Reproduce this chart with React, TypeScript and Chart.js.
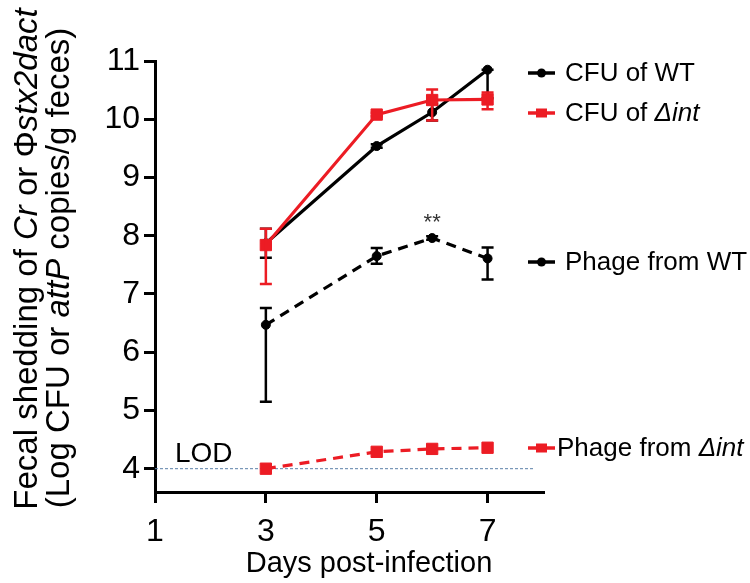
import React, { useEffect, useRef } from "react";
import { Chart, registerables } from "chart.js";

Chart.register(...registerables);

// ---------- data ----------
const days = [3, 5, 6, 7];

const cfuWT = [7.87, 9.54, 10.12, 10.85];
const cfuWTLow = [7.62, 9.51, 9.98, 10.36];
const cfuWTHigh = [8.12, 9.57, 10.26, 10.85];

const cfuInt = [7.84, 10.08, 10.33, 10.34];
const cfuIntLow = [7.17, 10.05, 9.98, 10.17];
const cfuIntHigh = [8.12, 10.11, 10.51, 10.46];

const phageWT = [6.47, 7.65, 7.96, 7.61];
const phageWTLow = [5.15, 7.52, 7.93, 7.25];
const phageWTHigh = [6.76, 7.79, 7.99, 7.8];

const phageInt = [4.0, 4.29, 4.34, 4.36];

const xTicks = [1, 3, 5, 7];
const yTicks = [4, 5, 6, 7, 8, 9, 10, 11];
const xMin = 1;
const xMax = 8;
const yMin = 3.6;
const yMax = 11;

const lodValue = 4;
const lodLabel = "LOD";
const starDay = 6;
const starValue = 8.22;
const starLabel = "**";

const xTitle = "Days post-infection";
// [text, italic]
const yTitleLine1: [string, boolean][] = [
  ["Fecal shedding of ", false],
  ["Cr", true],
  [" or \u03A6", false],
  ["stx2dact", true],
];
const yTitleLine2: [string, boolean][] = [
  ["(Log CFU or ", false],
  ["attP", true],
  [" copies/g feces)", false],
];

const legendLabels: [string, boolean][][] = [
  [["CFU of WT", false]],
  [["CFU of ", false], ["\u0394int", true]],
  [["Phage from WT", false]],
  [["Phage from ", false], ["\u0394int", true]],
];

const BLACK = "#000000";
const RED = "#ec1c24";
const FONT = '"Liberation Sans", Arial, Helvetica, sans-serif';

const errors = [
  { low: cfuWTLow, high: cfuWTHigh, color: BLACK },
  { low: cfuIntLow, high: cfuIntHigh, color: RED },
  { low: phageWTLow, high: phageWTHigh, color: BLACK },
  null,
];

function toPts(vals: number[]) {
  return vals.map((v, i) => ({ x: days[i], y: v }));
}

function drawSegments(
  ctx: CanvasRenderingContext2D,
  segs: [string, boolean][],
  x: number,
  y: number,
  size: number,
  align: "left" | "center"
) {
  let total = 0;
  const widths = segs.map(([t, it]) => {
    ctx.font = `${it ? "italic " : ""}${size}px ${FONT}`;
    const w = ctx.measureText(t).width;
    total += w;
    return w;
  });
  let cx = align === "center" ? x - total / 2 : x;
  ctx.textAlign = "left";
  segs.forEach(([t, it], i) => {
    ctx.font = `${it ? "italic " : ""}${size}px ${FONT}`;
    ctx.fillText(t, cx, y);
    cx += widths[i];
  });
}

const decorPlugin = {
  id: "decor",
  beforeDatasetsDraw(chart: any) {
    const ctx: CanvasRenderingContext2D = chart.ctx;
    const xs = chart.scales.x;
    const ys = chart.scales.y;
    const ly = ys.getPixelForValue(lodValue);
    ctx.save();
    ctx.strokeStyle = "#5a7fa8";
    ctx.lineWidth = 1;
    ctx.setLineDash([3, 2]);
    ctx.beginPath();
    ctx.moveTo(chart.chartArea.left, ly);
    ctx.lineTo(chart.chartArea.right - 8, ly);
    ctx.stroke();
    ctx.restore();
    ctx.save();
    ctx.fillStyle = "#000";
    ctx.textBaseline = "alphabetic";
    ctx.font = `28px ${FONT}`;
    ctx.textAlign = "left";
    ctx.fillText(lodLabel, xs.getPixelForValue(xMin) + 20, ly - 7);
    ctx.restore();
  },
  afterDatasetDraw(chart: any, args: any) {
    const e = errors[args.index];
    if (!e) return;
    const ctx: CanvasRenderingContext2D = chart.ctx;
    const xs = chart.scales.x;
    const ys = chart.scales.y;
    ctx.save();
    ctx.strokeStyle = e.color;
    ctx.lineWidth = 2.5;
    days.forEach((d, i) => {
      const px = xs.getPixelForValue(d);
      const lo = ys.getPixelForValue(e.low[i]);
      const hi = ys.getPixelForValue(e.high[i]);
      if (Math.abs(lo - hi) < 1) return;
      ctx.beginPath();
      ctx.moveTo(px, lo);
      ctx.lineTo(px, hi);
      ctx.moveTo(px - 6, lo);
      ctx.lineTo(px + 6, lo);
      ctx.moveTo(px - 6, hi);
      ctx.lineTo(px + 6, hi);
      ctx.stroke();
    });
    ctx.restore();
  },
  afterDraw(chart: any) {
    const ctx: CanvasRenderingContext2D = chart.ctx;
    const xs = chart.scales.x;
    const ys = chart.scales.y;
    const area = chart.chartArea;
    ctx.save();
    ctx.fillStyle = "#333";
    ctx.font = `22px ${FONT}`;
    ctx.textAlign = "center";
    ctx.textBaseline = "middle";
    ctx.fillText(starLabel, xs.getPixelForValue(starDay), ys.getPixelForValue(starValue));

    ctx.fillStyle = "#000";
    ctx.textBaseline = "middle";
    drawSegments(ctx, [[xTitle, false]], (area.left + area.right) / 2 + 20, 564, 29, "center");

    ctx.save();
    ctx.translate(28, 259);
    ctx.rotate(-Math.PI / 2);
    ctx.textBaseline = "middle";
    drawSegments(ctx, yTitleLine1, 0, 0, 33, "center");
    ctx.restore();
    ctx.save();
    ctx.translate(60, 268);
    ctx.rotate(-Math.PI / 2);
    ctx.textBaseline = "middle";
    drawSegments(ctx, yTitleLine2, 0, 0, 33, "center");
    ctx.restore();

    const rows = [
      { y: 73, color: BLACK, marker: "circle", tx: 565 },
      { y: 113, color: RED, marker: "rect", tx: 565 },
      { y: 262, color: BLACK, marker: "circle", tx: 565 },
      { y: 448, color: RED, marker: "rect", tx: 557 },
    ];
    rows.forEach((r, i) => {
      ctx.strokeStyle = r.color;
      ctx.fillStyle = r.color;
      ctx.lineWidth = 3.5;
      ctx.beginPath();
      ctx.moveTo(528, r.y);
      ctx.lineTo(555, r.y);
      ctx.stroke();
      if (r.marker === "circle") {
        ctx.beginPath();
        ctx.arc(541.5, r.y, 4.5, 0, Math.PI * 2);
        ctx.fill();
      } else {
        ctx.fillRect(536, r.y - 4.5, 11, 9);
      }
      ctx.fillStyle = "#000";
      ctx.textBaseline = "middle";
      drawSegments(ctx, legendLabels[i], r.tx, r.y + 1, 26, "left");
    });
    ctx.restore();
  },
};

export default function App() {
  const canvasRef = useRef<HTMLCanvasElement | null>(null);

  useEffect(() => {
    document.body.style.margin = "0";
    const canvas = canvasRef.current;
    if (!canvas) return;
    const chart = new Chart(canvas, {
      type: "line",
      data: {
        datasets: [
          {
            label: "CFU of WT",
            data: toPts(cfuWT),
            borderColor: BLACK,
            backgroundColor: BLACK,
            borderWidth: 3.2,
            pointStyle: "circle",
            pointRadius: 4.5,
            pointBorderWidth: 1,
            order: 1,
            clip: false,
          },
          {
            label: "CFU of \u0394int",
            data: toPts(cfuInt),
            borderColor: RED,
            backgroundColor: RED,
            borderWidth: 3.2,
            pointStyle: "rect",
            pointRadius: 8,
            pointBorderWidth: 1,
            order: 0,
            clip: false,
          },
          {
            label: "Phage from WT",
            data: toPts(phageWT),
            borderColor: BLACK,
            backgroundColor: BLACK,
            borderWidth: 3.2,
            borderDash: [10, 7],
            pointStyle: "circle",
            pointRadius: 4.5,
            pointBorderWidth: 1,
            order: 3,
            clip: false,
          },
          {
            label: "Phage from \u0394int",
            data: toPts(phageInt),
            borderColor: RED,
            backgroundColor: RED,
            borderWidth: 3.2,
            borderDash: [10, 7],
            pointStyle: "rect",
            pointRadius: 8,
            pointBorderWidth: 1,
            order: 2,
            clip: false,
          },
        ],
      },
      options: {
        animation: false,
        responsive: true,
        maintainAspectRatio: false,
        layout: { padding: { left: 0, top: 61, right: 207, bottom: 0 } },
        plugins: {
          legend: { display: false },
          tooltip: { enabled: false },
          title: { display: false },
        },
        scales: {
          x: {
            type: "linear",
            min: xMin,
            max: xMax,
            afterBuildTicks: (s: any) => {
              s.ticks = xTicks.map((v) => ({ value: v }));
            },
            afterFit: (s: any) => {
              s.height = 91;
            },
            grid: {
              drawOnChartArea: false,
              drawTicks: true,
              tickLength: 11,
              color: BLACK,
              lineWidth: 3,
            },
            border: { display: true, color: BLACK, width: 3 },
            ticks: {
              color: BLACK,
              font: { family: FONT, size: 32 },
              padding: 10,
              maxRotation: 0,
              autoSkip: false,
            },
          },
          y: {
            type: "linear",
            min: yMin,
            max: yMax,
            afterBuildTicks: (s: any) => {
              s.ticks = yTicks.map((v) => ({ value: v }));
            },
            afterFit: (s: any) => {
              s.width = 155;
            },
            grid: {
              drawOnChartArea: false,
              drawTicks: true,
              tickLength: 11,
              color: BLACK,
              lineWidth: 3,
            },
            border: { display: true, color: BLACK, width: 3 },
            ticks: {
              color: BLACK,
              font: { family: FONT, size: 32 },
              padding: 4,
              autoSkip: false,
            },
          },
        },
      },
      plugins: [decorPlugin],
    } as any);
    return () => chart.destroy();
  }, []);

  return (
    <div style={{ position: "relative", width: 750, height: 583 }}>
      <canvas ref={canvasRef} />
    </div>
  );
}
